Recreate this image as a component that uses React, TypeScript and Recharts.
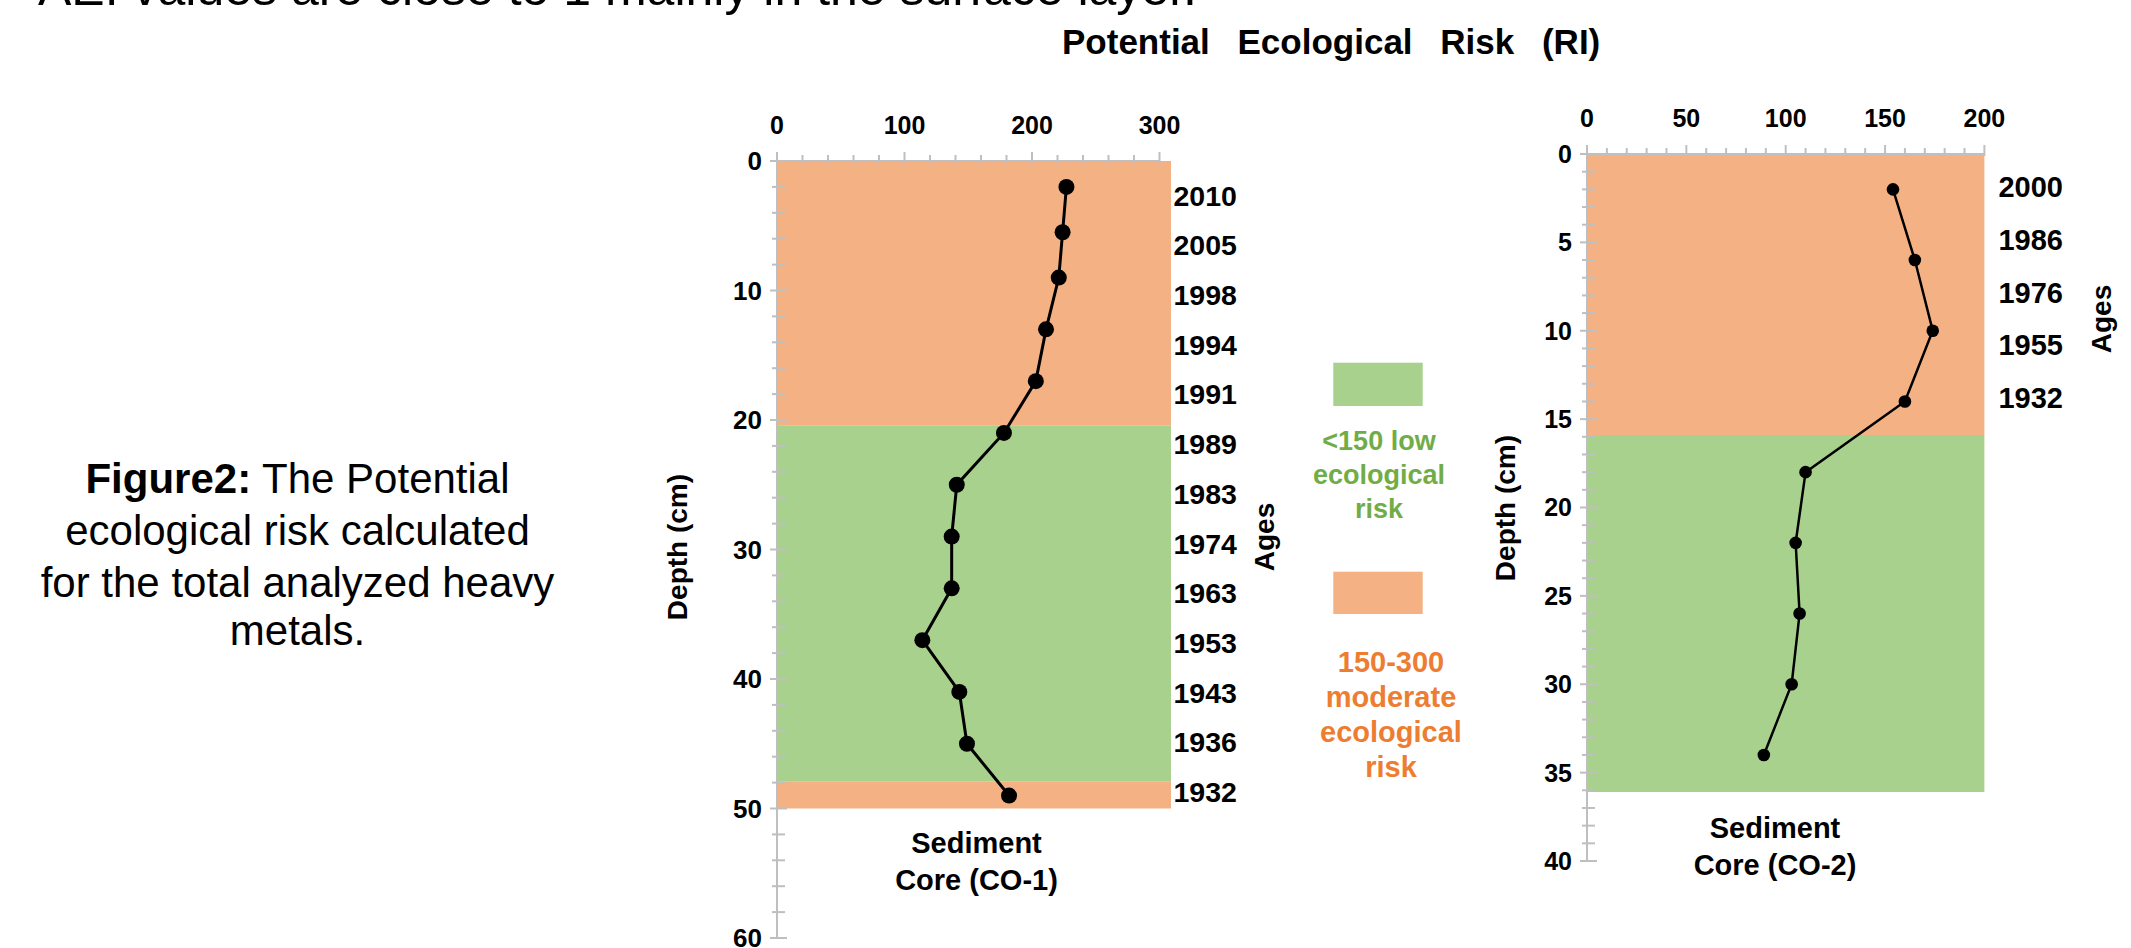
import React from 'react';
import { LineChart, Line, XAxis, YAxis, ReferenceArea } from 'recharts';

// ---------- data ----------
const core1Depth = [2, 5.5, 9, 13, 17, 21, 25, 29, 33, 37, 41, 45, 49];
const core1RI = [227, 224, 221, 211, 203, 178, 141, 137, 137, 114, 143, 149, 182];
const core1Ages = ['2010', '2005', '1998', '1994', '1991', '1989', '1983', '1974', '1963', '1953', '1943', '1936', '1932'];

const core2Depth = [2, 6, 10, 14, 18, 22, 26, 30, 34];
const core2RI = [154, 165, 174, 160, 110, 105, 107, 103, 89];
const core2Ages = ['2000', '1986', '1976', '1955', '1932'];

const core1Zones = [
  { top: 0, bottom: 20.4, level: 'moderate' },
  { top: 20.4, bottom: 47.9, level: 'low' },
  { top: 47.9, bottom: 50, level: 'moderate' },
];
const core2Zones = [
  { top: 0, bottom: 15.9, level: 'moderate' },
  { top: 15.9, bottom: 36.1, level: 'low' },
];

const riskFill: Record<string, string> = { low: '#A9D18E', moderate: '#F4B183' };
const FONT = '"Liberation Sans", Arial, Helvetica, sans-serif';
const AXIS = '#BFBFBF';

const range = (a: number, b: number, s: number) => {
  const out: number[] = [];
  for (let v = a; v <= b + 1e-9; v += s) out.push(Math.round(v * 1000) / 1000);
  return out;
};

const makeXTick = (major: number) => (props: any) => {
  const { x, y, payload } = props;
  const v = payload.value;
  const isMajor = Math.abs(v % major) < 1e-6;
  return (
    <g>
      <line x1={x} x2={x} y1={y - (isMajor ? 9 : 6)} y2={y + 2} stroke={AXIS} strokeWidth={2} />
      {isMajor && (
        <text x={x} y={y - 27} textAnchor="middle" fontSize={25} fontWeight="bold" fontFamily={FONT} fill="#000">
          {v}
        </text>
      )}
    </g>
  );
};

const makeYTick = (major: number, fontSize: number) => (props: any) => {
  const { x, y, payload } = props;
  const v = payload.value;
  const isMajor = Math.abs(v % major) < 1e-6;
  return (
    <g>
      <line x1={x - (isMajor ? 7 : 5)} x2={x + (isMajor ? 10 : 8)} y1={y} y2={y} stroke={AXIS} strokeWidth={2} />
      {isMajor && (
        <text x={x - 15} y={y} dy="0.36em" textAnchor="end" fontSize={fontSize} fontWeight="bold" fontFamily={FONT} fill="#000">
          {v}
        </text>
      )}
    </g>
  );
};

const makeAgeTick = (labels: string[], fontSize: number) => (props: any) => {
  const { x, y, payload } = props;
  const label = labels[Math.round(payload.value) - 1];
  return (
    <text x={x + 14} y={y} dy="0.36em" textAnchor="start" fontSize={fontSize} fontWeight="bold" fontFamily={FONT} fill="#000">
      {label}
    </text>
  );
};

type CoreProps = {
  left: number;
  top: number;
  plotW: number;
  plotH: number;
  depth: number[];
  ri: number[];
  ages: string[];
  zones: { top: number; bottom: number; level: string }[];
  xMax: number;
  bgMax: number;
  xMinor: number;
  xMajor: number;
  yMax: number;
  yMinor: number;
  yMajor: number;
  ageDomain: [number, number];
  dotR: number;
  lineW: number;
  yFont: number;
  ageFont: number;
};

const LEFT_W = 70;
const RIGHT_W = 110;
const TOP_H = 60;

function CoreChart(p: CoreProps) {
  const data = p.depth.map((d, i) => ({ depth: d, ri: p.ri[i] }));
  const ageTicks = p.ages.map((_, i) => i + 1);
  return (
    <div style={{ position: 'absolute', left: p.left, top: p.top }}>
      <LineChart
        width={p.plotW + LEFT_W + RIGHT_W}
        height={p.plotH + TOP_H}
        data={data}
        layout="vertical"
        margin={{ top: 0, right: 0, bottom: 0, left: 0 }}
      >
        <XAxis
          type="number"
          orientation="top"
          dataKey="ri"
          domain={[0, p.xMax]}
          ticks={range(0, p.xMax, p.xMinor)}
          interval={0}
          height={TOP_H}
          tickSize={0}
          tickMargin={0}
          tickLine={false}
          axisLine={{ stroke: AXIS, strokeWidth: 2 }}
          tick={makeXTick(p.xMajor)}
          allowDataOverflow
        />
        <YAxis
          yAxisId="depth"
          type="number"
          dataKey="depth"
          orientation="left"
          domain={[0, p.yMax]}
          ticks={range(0, p.yMax, p.yMinor)}
          interval={0}
          width={LEFT_W}
          tickSize={0}
          tickMargin={0}
          tickLine={false}
          axisLine={{ stroke: AXIS, strokeWidth: 2 }}
          tick={makeYTick(p.yMajor, p.yFont)}
          allowDataOverflow
        />
        <YAxis
          yAxisId="age"
          type="number"
          dataKey="depth"
          orientation="right"
          domain={p.ageDomain}
          ticks={ageTicks}
          interval={0}
          width={RIGHT_W}
          tickSize={0}
          tickMargin={0}
          tickLine={false}
          axisLine={false}
          tick={makeAgeTick(p.ages, p.ageFont)}
          allowDataOverflow
        />
        {p.zones.map((z, i) => (
          <ReferenceArea
            key={i}
            yAxisId="depth"
            x1={0}
            x2={p.bgMax}
            y1={z.top}
            y2={z.bottom}
            fill={riskFill[z.level]}
            fillOpacity={1}
            stroke="none"
            ifOverflow="visible"
          />
        ))}
        <Line
          yAxisId="depth"
          dataKey="ri"
          type="linear"
          stroke="#000"
          strokeWidth={p.lineW}
          dot={{ r: p.dotR, fill: '#000', stroke: '#000', strokeWidth: 0 }}
          activeDot={false}
          isAnimationActive={false}
        />
      </LineChart>
    </div>
  );
}

const T = (props: any) => <text fontFamily={FONT} fill="#000" {...props} />;

export default function App() {
  return (
    <div style={{ position: 'absolute', left: 0, top: 0, width: 2131, height: 948, background: '#fff', overflow: 'hidden' }}>
      <style>{`.recharts-surface{overflow:visible}`}</style>
      <CoreChart
        left={776.5 - LEFT_W}
        top={160.7 - TOP_H}
        plotW={382.5}
        plotH={777}
        depth={core1Depth}
        ri={core1RI}
        ages={core1Ages}
        zones={core1Zones}
        xMax={300}
        bgMax={309}
        xMinor={20}
        xMajor={100}
        yMax={60}
        yMinor={2}
        yMajor={10}
        ageDomain={[0.31, 15.94]}
        dotR={8}
        lineW={3}
        yFont={26}
        ageFont={28.5}
      />
      <CoreChart
        left={1587 - LEFT_W}
        top={154 - TOP_H}
        plotW={397.4}
        plotH={707}
        depth={core2Depth}
        ri={core2RI}
        ages={core2Ages}
        zones={core2Zones}
        xMax={200}
        bgMax={200}
        xMinor={10}
        xMajor={50}
        yMax={40}
        yMinor={1}
        yMajor={5}
        ageDomain={[0.39, 13.75]}
        dotR={6.3}
        lineW={2.5}
        yFont={25}
        ageFont={29}
      />
      <svg width={2131} height={948} style={{ position: 'absolute', left: 0, top: 0, pointerEvents: 'none' }}>
        <T x={38} y={5} fontSize={50}>AEI values are close to 1 mainly in the surface layer.</T>
        <T x={1062} y={54} fontSize={35} fontWeight="bold" wordSpacing={18}>Potential Ecological Risk (RI)</T>

        <T x={297.5} y={493} fontSize={42} textAnchor="middle">
          <tspan fontWeight="bold">Figure2:</tspan>
          {' The Potential'}
        </T>
        <T x={297.5} y={545} fontSize={42} textAnchor="middle">ecological risk calculated</T>
        <T x={297.5} y={597} fontSize={42} textAnchor="middle">for the total analyzed heavy</T>
        <T x={297.5} y={645} fontSize={42} textAnchor="middle">metals.</T>

        <T x={677} y={547} fontSize={28} fontWeight="bold" textAnchor="middle" dominantBaseline="central" transform="rotate(-90 677 547)">Depth (cm)</T>
        <T x={1264} y={537} fontSize={28} fontWeight="bold" textAnchor="middle" dominantBaseline="central" transform="rotate(-90 1264 537)">Ages</T>
        <T x={976.5} y={853} fontSize={29} fontWeight="bold" textAnchor="middle">Sediment</T>
        <T x={976.5} y={890} fontSize={29} fontWeight="bold" textAnchor="middle">Core (CO-1)</T>

        <T x={1505} y={508} fontSize={28} fontWeight="bold" textAnchor="middle" dominantBaseline="central" transform="rotate(-90 1505 508)">Depth (cm)</T>
        <T x={2101} y={319} fontSize={28} fontWeight="bold" textAnchor="middle" dominantBaseline="central" transform="rotate(-90 2101 319)">Ages</T>
        <T x={1775} y={838} fontSize={29} fontWeight="bold" textAnchor="middle">Sediment</T>
        <T x={1775} y={875} fontSize={29} fontWeight="bold" textAnchor="middle">Core (CO-2)</T>

        <rect x={1333.3} y={362.7} width={89.4} height={43.3} fill={riskFill.low} />
        <T x={1379} y={450} fontSize={27} fontWeight="bold" textAnchor="middle" fill="#70AD47">&lt;150 low</T>
        <T x={1379} y={484} fontSize={27} fontWeight="bold" textAnchor="middle" fill="#70AD47">ecological</T>
        <T x={1379} y={518} fontSize={27} fontWeight="bold" textAnchor="middle" fill="#70AD47">risk</T>

        <rect x={1333.3} y={571.7} width={89.4} height={42.3} fill={riskFill.moderate} />
        <T x={1391} y={671.7} fontSize={29} fontWeight="bold" textAnchor="middle" fill="#ED7D31">150-300</T>
        <T x={1391} y={706.7} fontSize={29} fontWeight="bold" textAnchor="middle" fill="#ED7D31">moderate</T>
        <T x={1391} y={741.7} fontSize={29} fontWeight="bold" textAnchor="middle" fill="#ED7D31">ecological</T>
        <T x={1391} y={776.7} fontSize={29} fontWeight="bold" textAnchor="middle" fill="#ED7D31">risk</T>
      </svg>
    </div>
  );
}
